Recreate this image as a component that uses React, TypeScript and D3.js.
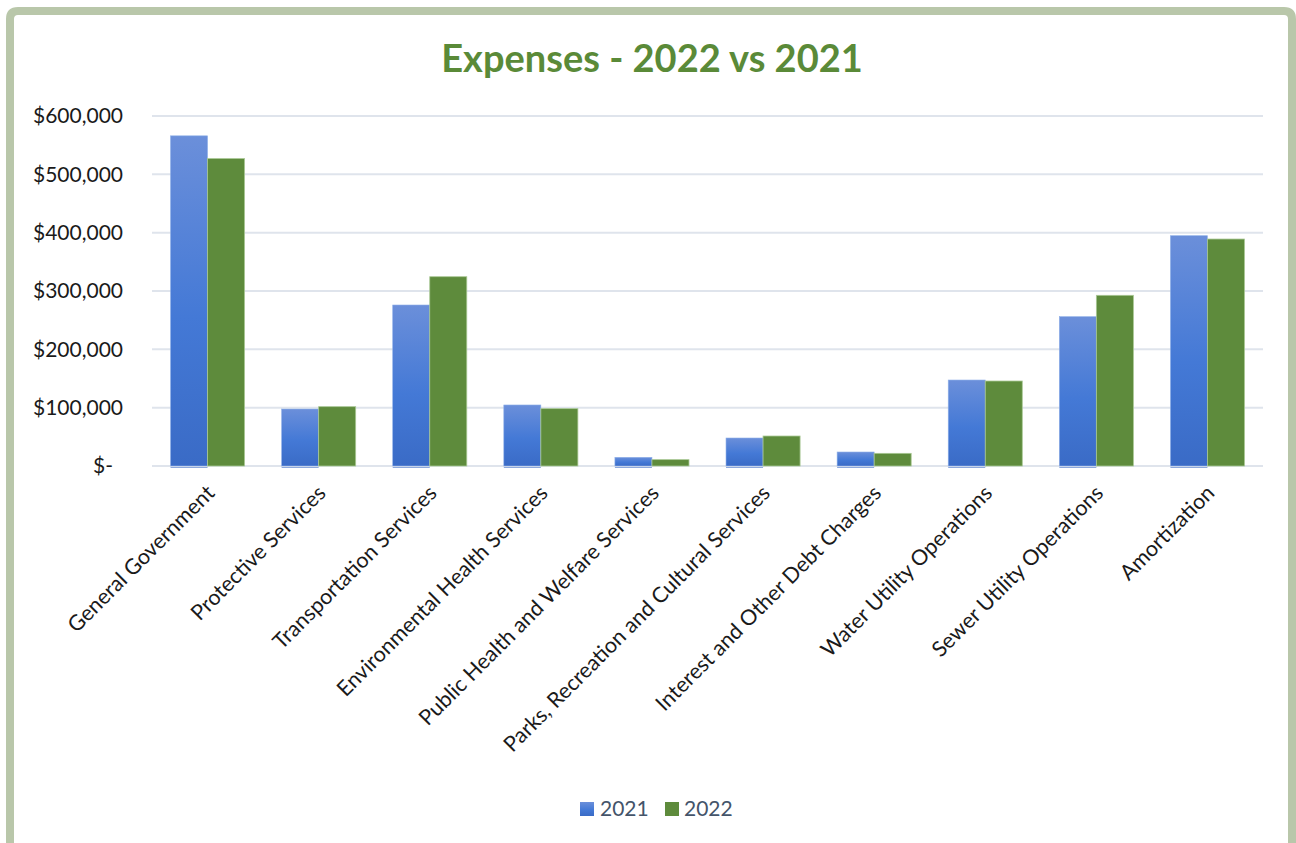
import React from "react";
import * as d3 from "d3";

const categories = [
  "General Government",
  "Protective Services",
  "Transportation Services",
  "Environmental Health Services",
  "Public Health and Welfare Services",
  "Parks, Recreation and Cultural Services",
  "Interest and Other Debt Charges",
  "Water Utility Operations",
  "Sewer Utility Operations",
  "Amortization",
];
const values2021 = [566000, 97700, 276000, 104600, 14900, 48000, 24000, 147400, 256000, 394800];
const values2022 = [527000, 101700, 324500, 98300, 10900, 51400, 21700, 145700, 292600, 389100];
const seriesNames = ["2021", "2022"];
const yTicks = [0, 100000, 200000, 300000, 400000, 500000, 600000];
const title = "Expenses - 2022 vs 2021";

const W = 1296;
const H = 843;
const FONT = "Lato, 'Open Sans', sans-serif";

export default function App() {
  const x0 = d3.scaleBand<string>().domain(categories).range([152, 1263]).paddingInner(1 / 3).paddingOuter(1 / 6);
  const x1 = d3.scaleBand<string>().domain(seriesNames).range([0, x0.bandwidth()]).padding(0);
  const y = d3.scaleLinear().domain([0, 600000]).range([466, 116]);
  const fmt = (v: number) => (v === 0 ? "$-" : "$" + d3.format(",")(v));

  return (
    <svg width={W} height={H} style={{ position: "absolute", left: 0, top: 0, background: "#fff" }}>
      <defs>
        <linearGradient id="blueGrad" x1="0" y1="0" x2="0" y2="1">
          <stop offset="0%" stopColor="#6b8fda" />
          <stop offset="55%" stopColor="#4479d6" />
          <stop offset="100%" stopColor="#3a6bc6" />
        </linearGradient>
      </defs>
      <rect x={0} y={0} width={W} height={H} fill="#ffffff" />
      <path
        d={`M10,${H + 20} L10,19 Q10,11 18,11 L1284,11 Q1292,11 1292,19 L1292,${H + 20}`}
        fill="#ffffff"
        stroke="#b9c7aa"
        strokeWidth={8}
      />
      <text x={652} y={72} textAnchor="middle" fontFamily={FONT} fontWeight={700} fontSize={38} fill="#5a8a38">
        {title}
      </text>
      {yTicks.map((t) => (
        <g key={t}>
          <line x1={152} x2={1263} y1={y(t)} y2={y(t)} stroke="#dfe4ec" strokeWidth={2} />
          <text
            x={t === 0 ? 113 : 123}
            y={y(t)}
            dy="0.35em"
            textAnchor="end"
            fontFamily={FONT}
            fontSize={21}
            fill="#1a1a1a"
          >
            {fmt(t)}
          </text>
        </g>
      ))}
      {categories.map((c, i) => {
        const bx = x0(c)!;
        const xb = bx + x1("2021")!;
        const xg = bx + x1("2022")!;
        const bw = x1.bandwidth();
        return (
          <g key={c}>
            <rect x={xb} y={y(values2021[i])} width={bw} height={y(0) - y(values2021[i])} fill="url(#blueGrad)" stroke="#8fb0e8" strokeWidth={0.6} />
            <line x1={xb} x2={xb + bw} y1={y(0) + 1.5} y2={y(0) + 1.5} stroke="#8ea9dc" strokeWidth={1} />
            <rect x={xg} y={y(values2022[i])} width={bw} height={y(0) - y(values2022[i])} fill="#5e8b3c" stroke="#a9c894" strokeWidth={0.8} />
          </g>
        );
      })}
      {categories.map((c) => {
        const cx = x0(c)! + x0.bandwidth() / 2 + 3;
        const cy = 489;
        return (
          <text
            key={c}
            transform={`translate(${cx},${cy}) rotate(-45)`}
            textAnchor="end"
            dy="0.35em"
            fontFamily={FONT}
            fontSize={21.5}
            fill="#1a1a1a"
          >
            {c}
          </text>
        );
      })}
      <g>
        <rect x={580} y={802} width={14} height={14} fill="url(#blueGrad)" />
        <text x={600} y={809} dy="0.35em" fontFamily={FONT} fontSize={21} fill="#44546a">2021</text>
        <rect x={665} y={802} width={14} height={14} fill="#5e8b3c" />
        <text x={684} y={809} dy="0.35em" fontFamily={FONT} fontSize={21} fill="#44546a">2022</text>
      </g>
    </svg>
  );
}
